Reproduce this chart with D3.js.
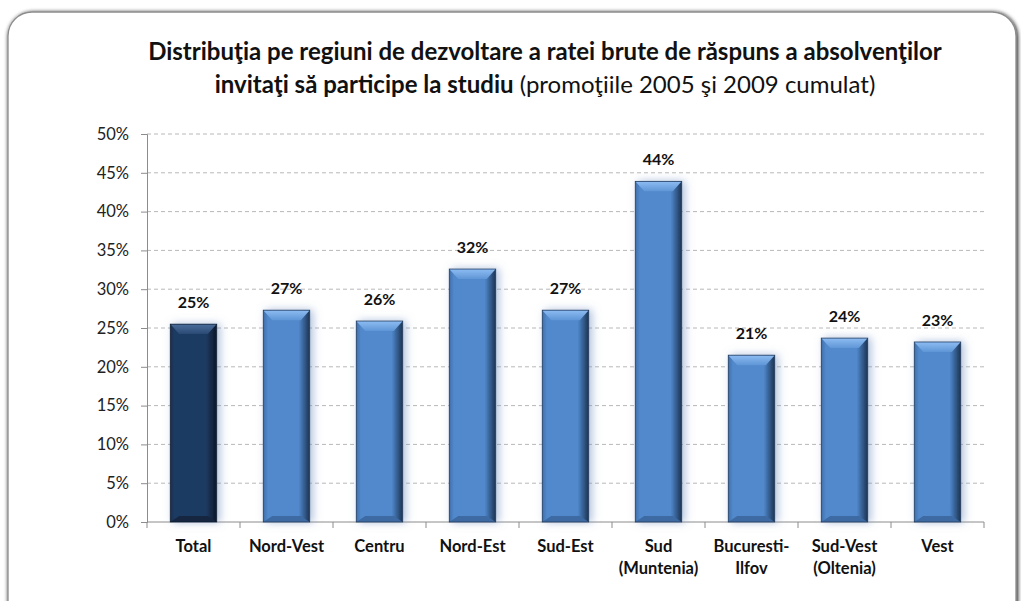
<!DOCTYPE html>
<html>
<head>
<meta charset="utf-8">
<script src="https://cdn.jsdelivr.net/npm/d3@7"></script>
<style>
body { margin: 0; background: #fff; }
svg { display: block; font-family: Lato, "Open Sans", sans-serif; }
</style>
</head>
<body>
<svg id="chart" width="1021" height="601"></svg>
<script>
// chart data
var categories = ["Total", "Nord-Vest", "Centru", "Nord-Est", "Sud-Est", "Sud (Muntenia)", "Bucuresti- Ilfov", "Sud-Vest (Oltenia)", "Vest"];
var catLines = [["Total"], ["Nord-Vest"], ["Centru"], ["Nord-Est"], ["Sud-Est"], ["Sud", "(Muntenia)"], ["Bucuresti-", "Ilfov"], ["Sud-Vest", "(Oltenia)"], ["Vest"]];
var values = [25.5, 27.3, 25.9, 32.6, 27.3, 43.9, 21.5, 23.7, 23.2];
var valueLabels = ["25%", "27%", "26%", "32%", "27%", "44%", "21%", "24%", "23%"];
var yTicks = [0, 5, 10, 15, 20, 25, 30, 35, 40, 45, 50];

var svg = d3.select("#chart");
var plotLeft = 147, plotRight = 984, plotTop = 134, plotBottom = 522;

var defs = svg.append("defs");

// frame shadow
var fs = defs.append("filter").attr("id", "frameShadow").attr("x", "-5%").attr("y", "-5%").attr("width", "110%").attr("height", "110%");
fs.append("feGaussianBlur").attr("in", "SourceAlpha").attr("stdDeviation", 2);
fs.append("feOffset").attr("dx", 1).attr("dy", 1).attr("result", "b");
var fm = fs.append("feMerge");
fm.append("feMergeNode").attr("in", "b");
fm.append("feMergeNode").attr("in", "SourceGraphic");

// bar glow
var glow = defs.append("filter").attr("id", "glow").attr("x", "-40%").attr("y", "-10%").attr("width", "180%").attr("height", "120%");
glow.append("feGaussianBlur").attr("in", "SourceAlpha").attr("stdDeviation", 4).attr("result", "bl");
glow.append("feFlood").attr("flood-color", "#6f8fc0").attr("flood-opacity", 0.55);
glow.append("feComposite").attr("in2", "bl").attr("operator", "in").attr("result", "sh");
glow.append("feOffset").attr("in", "sh").attr("dx", 3).attr("dy", 0).attr("result", "sh2");
var gm = glow.append("feMerge");
gm.append("feMergeNode").attr("in", "sh2");
gm.append("feMergeNode").attr("in", "SourceGraphic");

function gradient(id, stops, vertical) {
  var g = defs.append("linearGradient").attr("id", id).attr("x1", 0).attr("x2", vertical ? 0 : 1).attr("y1", 0).attr("y2", vertical ? 1 : 0);
  stops.forEach(function(s) { g.append("stop").attr("offset", s[0]).attr("stop-color", s[1]); });
}
gradient("blueBody", [[0, "#3f6ea8"], [0.1, "#5189cc"], [0.76, "#5189cc"], [0.86, "#3a669c"], [1, "#1c324f"]]);
gradient("navyBody", [[0, "#182f50"], [0.1, "#1f3b63"], [0.76, "#1f3b63"], [0.86, "#172d4c"], [1, "#0b1626"]]);
gradient("blueTop", [[0, "#8dbcf2"], [1, "#5f96d6"]], true);
gradient("navyTop", [[0, "#4a6d9a"], [1, "#2a4a74"]], true);

svg.append("rect")
  .attr("x", 8).attr("y", 12).attr("width", 1008).attr("height", 620)
  .attr("rx", 24).attr("fill", "#fff").attr("stroke", "#8c8c8c").attr("stroke-width", 1.3)
  .attr("filter", "url(#frameShadow)");

// title
var title = svg.append("text").attr("text-anchor", "middle").attr("font-size", 24).attr("fill", "#111");
title.append("tspan").attr("x", 545).attr("y", 60).attr("font-weight", "bold")
  .text("Distribuţia pe regiuni de dezvoltare a ratei brute de răspuns a absolvenţilor");
var t2 = title.append("tspan").attr("x", 545).attr("y", 93);
t2.append("tspan").attr("font-weight", "bold").text("invitaţi să participe la studiu");
t2.append("tspan").attr("font-weight", "normal").text(" (promoţiile 2005 şi 2009 cumulat)");

var x = d3.scaleBand().domain(categories).range([plotLeft, plotRight]).paddingInner(0.5).paddingOuter(0.25);
var y = d3.scaleLinear().domain([0, 50]).range([plotBottom, plotTop]);

// grid
svg.append("g").selectAll("line").data(yTicks.filter(function(d) { return d > 0; })).enter()
  .append("line")
  .attr("x1", plotLeft).attr("x2", plotRight)
  .attr("y1", function(d) { return y(d); }).attr("y2", function(d) { return y(d); })
  .attr("stroke", "#b8b8b8").attr("stroke-dasharray", "4,3");

// y axis
var yAxis = d3.axisLeft(y).tickValues(yTicks).tickSize(6).tickPadding(12).tickFormat(function(d) { return d + "%"; });
var gy = svg.append("g").attr("transform", "translate(" + plotLeft + ",0)").call(yAxis);
gy.select(".domain").attr("stroke", "#8c8c8c");
gy.selectAll(".tick line").attr("stroke", "#8c8c8c");
gy.selectAll(".tick text").attr("font-size", 16.5).attr("fill", "#222").attr("font-family", "Lato, sans-serif");

// x axis line and ticks at band edges
var step = x.step();
svg.append("line").attr("x1", plotLeft).attr("x2", plotRight).attr("y1", plotBottom).attr("y2", plotBottom).attr("stroke", "#8c8c8c");
svg.append("g").selectAll("line").data(d3.range(categories.length + 1)).enter()
  .append("line")
  .attr("x1", function(i) { return plotLeft + i * step; }).attr("x2", function(i) { return plotLeft + i * step; })
  .attr("y1", plotBottom).attr("y2", plotBottom + 6).attr("stroke", "#8c8c8c");

// bars
var bars = svg.append("g").selectAll("g.bar").data(categories).enter()
  .append("g").attr("class", "bar").attr("filter", "url(#glow)");

bars.each(function(c, i) {
  var g = d3.select(this);
  var bx = x(c), bw = x.bandwidth(), by = y(values[i]), bh = plotBottom - by;
  var dark = i === 0;
  g.append("rect").attr("x", bx).attr("y", by).attr("width", bw).attr("height", bh)
    .attr("fill", dark ? "url(#navyBody)" : "url(#blueBody)");
  var b = 9;
  // top bevel
  g.append("path")
    .attr("d", "M" + bx + "," + by + "L" + (bx + bw) + "," + by + "L" + (bx + bw - b) + "," + (by + 10) + "L" + (bx + b) + "," + (by + 10) + "Z")
    .attr("fill", dark ? "url(#navyTop)" : "url(#blueTop)");
  // bottom bevel
  g.append("path")
    .attr("d", "M" + bx + "," + plotBottom + "L" + (bx + bw) + "," + plotBottom + "L" + (bx + bw - b) + "," + (plotBottom - 6) + "L" + (bx + b) + "," + (plotBottom - 6) + "Z")
    .attr("fill", dark ? "#132640" : "#3c6aa2");
  g.append("rect").attr("x", bx).attr("y", by).attr("width", bw).attr("height", bh)
    .attr("fill", "none").attr("stroke", dark ? "#0c1a2c" : "#203a5c").attr("stroke-width", 0.8);
});

// value labels
svg.append("g").selectAll("text").data(categories).enter()
  .append("text")
  .attr("x", function(c) { return x(c) + x.bandwidth() / 2; })
  .attr("y", function(c, i) { return y(values[i]) - 16; })
  .attr("text-anchor", "middle").attr("font-size", 16).attr("font-weight", "bold").attr("fill", "#111")
  .text(function(c, i) { return valueLabels[i]; });

// category labels
var cl = svg.append("g").selectAll("text").data(categories).enter()
  .append("text")
  .attr("text-anchor", "middle").attr("font-size", 16.5).attr("font-weight", "bold").attr("fill", "#111");
cl.each(function(c, i) {
  var t = d3.select(this);
  catLines[i].forEach(function(line, k) {
    t.append("tspan").attr("x", x(c) + x.bandwidth() / 2).attr("y", 552 + k * 22)
      .text(line);
  });
});
</script>
</body>
</html>
